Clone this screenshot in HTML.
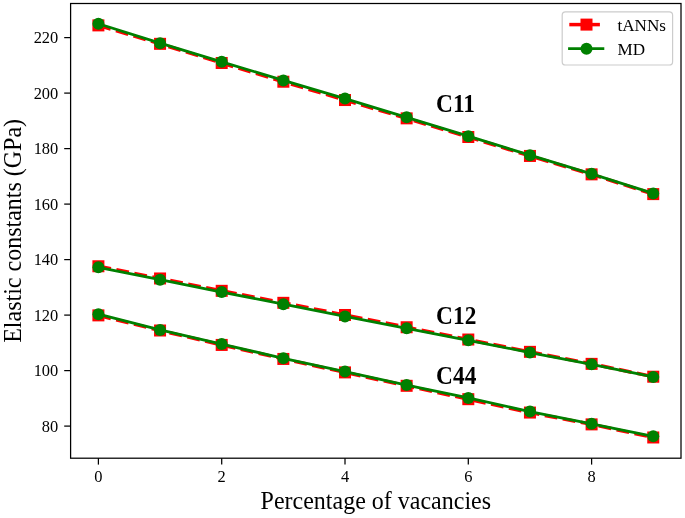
<!DOCTYPE html>
<html lang="en"><head><meta charset="utf-8"><title>Elastic constants vs percentage of vacancies</title>
<style>html,body{margin:0;padding:0;background:#fff;}svg{display:block;}</style></head>
<body>
<svg width="685" height="518" viewBox="0 0 685 518" font-family="'Liberation Serif', serif">
<rect x="0" y="0" width="685" height="518" fill="#ffffff"/>
<defs><clipPath id="ax"><rect x="70.6" y="3.5" width="610.4" height="454.7"/></clipPath></defs>
<g clip-path="url(#ax)">
<polyline points="98.40,25.39 160.05,43.84 221.70,62.99 283.35,81.72 345.00,100.04 406.65,118.35 468.30,137.00 529.95,155.95 591.60,174.35 653.25,194.11" fill="none" stroke="#ff0000" stroke-width="3.5" stroke-dasharray="12.8 5.5" stroke-linejoin="round"/>
<rect x="92.40" y="19.39" width="12.0" height="12.0" fill="#ff0000"/>
<rect x="154.05" y="37.84" width="12.0" height="12.0" fill="#ff0000"/>
<rect x="215.70" y="56.99" width="12.0" height="12.0" fill="#ff0000"/>
<rect x="277.35" y="75.72" width="12.0" height="12.0" fill="#ff0000"/>
<rect x="339.00" y="94.04" width="12.0" height="12.0" fill="#ff0000"/>
<rect x="400.65" y="112.35" width="12.0" height="12.0" fill="#ff0000"/>
<rect x="462.30" y="131.00" width="12.0" height="12.0" fill="#ff0000"/>
<rect x="523.95" y="149.95" width="12.0" height="12.0" fill="#ff0000"/>
<rect x="585.60" y="168.35" width="12.0" height="12.0" fill="#ff0000"/>
<rect x="647.25" y="188.11" width="12.0" height="12.0" fill="#ff0000"/>
<polyline points="98.40,23.73 160.05,43.15 221.70,61.80 283.35,80.39 345.00,98.59 406.65,117.30 468.30,136.20 529.95,155.20 591.60,173.85 653.25,193.42" fill="none" stroke="#008000" stroke-width="2.8" stroke-linejoin="round"/>
<circle cx="98.40" cy="23.73" r="6.0" fill="#008000"/>
<circle cx="160.05" cy="43.15" r="6.0" fill="#008000"/>
<circle cx="221.70" cy="61.80" r="6.0" fill="#008000"/>
<circle cx="283.35" cy="80.39" r="6.0" fill="#008000"/>
<circle cx="345.00" cy="98.59" r="6.0" fill="#008000"/>
<circle cx="406.65" cy="117.30" r="6.0" fill="#008000"/>
<circle cx="468.30" cy="136.20" r="6.0" fill="#008000"/>
<circle cx="529.95" cy="155.20" r="6.0" fill="#008000"/>
<circle cx="591.60" cy="173.85" r="6.0" fill="#008000"/>
<circle cx="653.25" cy="193.42" r="6.0" fill="#008000"/>
<polyline points="98.40,266.26 160.05,278.47 221.70,290.82 283.35,302.83 345.00,314.99 406.65,327.25 468.30,339.52 529.95,351.84 591.60,363.86 653.25,376.71" fill="none" stroke="#ff0000" stroke-width="3.5" stroke-dasharray="12.8 5.5" stroke-linejoin="round"/>
<rect x="92.40" y="260.26" width="12.0" height="12.0" fill="#ff0000"/>
<rect x="154.05" y="272.47" width="12.0" height="12.0" fill="#ff0000"/>
<rect x="215.70" y="284.82" width="12.0" height="12.0" fill="#ff0000"/>
<rect x="277.35" y="296.83" width="12.0" height="12.0" fill="#ff0000"/>
<rect x="339.00" y="308.99" width="12.0" height="12.0" fill="#ff0000"/>
<rect x="400.65" y="321.25" width="12.0" height="12.0" fill="#ff0000"/>
<rect x="462.30" y="333.52" width="12.0" height="12.0" fill="#ff0000"/>
<rect x="523.95" y="345.84" width="12.0" height="12.0" fill="#ff0000"/>
<rect x="585.60" y="357.86" width="12.0" height="12.0" fill="#ff0000"/>
<rect x="647.25" y="370.71" width="12.0" height="12.0" fill="#ff0000"/>
<polyline points="98.40,267.31 160.05,279.64 221.70,292.07 283.35,304.14 345.00,316.49 406.65,328.28 468.30,340.35 529.95,352.51 591.60,364.30 653.25,376.90" fill="none" stroke="#008000" stroke-width="2.8" stroke-linejoin="round"/>
<circle cx="98.40" cy="267.31" r="6.0" fill="#008000"/>
<circle cx="160.05" cy="279.64" r="6.0" fill="#008000"/>
<circle cx="221.70" cy="292.07" r="6.0" fill="#008000"/>
<circle cx="283.35" cy="304.14" r="6.0" fill="#008000"/>
<circle cx="345.00" cy="316.49" r="6.0" fill="#008000"/>
<circle cx="406.65" cy="328.28" r="6.0" fill="#008000"/>
<circle cx="468.30" cy="340.35" r="6.0" fill="#008000"/>
<circle cx="529.95" cy="352.51" r="6.0" fill="#008000"/>
<circle cx="591.60" cy="364.30" r="6.0" fill="#008000"/>
<circle cx="653.25" cy="376.90" r="6.0" fill="#008000"/>
<polyline points="98.40,315.38 160.05,330.50 221.70,344.93 283.35,358.94 345.00,372.40 406.65,385.81 468.30,399.18 529.95,412.56 591.60,424.38 653.25,437.48" fill="none" stroke="#ff0000" stroke-width="3.5" stroke-dasharray="12.8 5.5" stroke-linejoin="round"/>
<rect x="92.40" y="309.38" width="12.0" height="12.0" fill="#ff0000"/>
<rect x="154.05" y="324.50" width="12.0" height="12.0" fill="#ff0000"/>
<rect x="215.70" y="338.93" width="12.0" height="12.0" fill="#ff0000"/>
<rect x="277.35" y="352.94" width="12.0" height="12.0" fill="#ff0000"/>
<rect x="339.00" y="366.40" width="12.0" height="12.0" fill="#ff0000"/>
<rect x="400.65" y="379.81" width="12.0" height="12.0" fill="#ff0000"/>
<rect x="462.30" y="393.18" width="12.0" height="12.0" fill="#ff0000"/>
<rect x="523.95" y="406.56" width="12.0" height="12.0" fill="#ff0000"/>
<rect x="585.60" y="418.38" width="12.0" height="12.0" fill="#ff0000"/>
<rect x="647.25" y="431.48" width="12.0" height="12.0" fill="#ff0000"/>
<polyline points="98.40,314.21 160.05,329.89 221.70,344.10 283.35,358.31 345.00,371.60 406.65,385.11 468.30,397.91 529.95,411.59 591.60,423.82 653.25,436.37" fill="none" stroke="#008000" stroke-width="2.8" stroke-linejoin="round"/>
<circle cx="98.40" cy="314.21" r="6.0" fill="#008000"/>
<circle cx="160.05" cy="329.89" r="6.0" fill="#008000"/>
<circle cx="221.70" cy="344.10" r="6.0" fill="#008000"/>
<circle cx="283.35" cy="358.31" r="6.0" fill="#008000"/>
<circle cx="345.00" cy="371.60" r="6.0" fill="#008000"/>
<circle cx="406.65" cy="385.11" r="6.0" fill="#008000"/>
<circle cx="468.30" cy="397.91" r="6.0" fill="#008000"/>
<circle cx="529.95" cy="411.59" r="6.0" fill="#008000"/>
<circle cx="591.60" cy="423.82" r="6.0" fill="#008000"/>
<circle cx="653.25" cy="436.37" r="6.0" fill="#008000"/>
</g>
<line x1="98.40" y1="458.2" x2="98.40" y2="464.59999999999997" stroke="#000" stroke-width="1.25"/>
<text transform="translate(98.40 481.8) scale(0.935 1)" font-size="17.6" text-anchor="middle" fill="#000">0</text>
<line x1="221.70" y1="458.2" x2="221.70" y2="464.59999999999997" stroke="#000" stroke-width="1.25"/>
<text transform="translate(221.70 481.8) scale(0.935 1)" font-size="17.6" text-anchor="middle" fill="#000">2</text>
<line x1="345.00" y1="458.2" x2="345.00" y2="464.59999999999997" stroke="#000" stroke-width="1.25"/>
<text transform="translate(345.00 481.8) scale(0.935 1)" font-size="17.6" text-anchor="middle" fill="#000">4</text>
<line x1="468.30" y1="458.2" x2="468.30" y2="464.59999999999997" stroke="#000" stroke-width="1.25"/>
<text transform="translate(468.30 481.8) scale(0.935 1)" font-size="17.6" text-anchor="middle" fill="#000">6</text>
<line x1="591.60" y1="458.2" x2="591.60" y2="464.59999999999997" stroke="#000" stroke-width="1.25"/>
<text transform="translate(591.60 481.8) scale(0.935 1)" font-size="17.6" text-anchor="middle" fill="#000">8</text>
<line x1="64.19999999999999" y1="426.10" x2="70.6" y2="426.10" stroke="#000" stroke-width="1.25"/>
<text transform="translate(58.3 431.80) scale(0.935 1)" font-size="17.6" text-anchor="end" fill="#000">80</text>
<line x1="64.19999999999999" y1="370.60" x2="70.6" y2="370.60" stroke="#000" stroke-width="1.25"/>
<text transform="translate(58.3 376.30) scale(0.935 1)" font-size="17.6" text-anchor="end" fill="#000">100</text>
<line x1="64.19999999999999" y1="315.10" x2="70.6" y2="315.10" stroke="#000" stroke-width="1.25"/>
<text transform="translate(58.3 320.80) scale(0.935 1)" font-size="17.6" text-anchor="end" fill="#000">120</text>
<line x1="64.19999999999999" y1="259.60" x2="70.6" y2="259.60" stroke="#000" stroke-width="1.25"/>
<text transform="translate(58.3 265.30) scale(0.935 1)" font-size="17.6" text-anchor="end" fill="#000">140</text>
<line x1="64.19999999999999" y1="204.10" x2="70.6" y2="204.10" stroke="#000" stroke-width="1.25"/>
<text transform="translate(58.3 209.80) scale(0.935 1)" font-size="17.6" text-anchor="end" fill="#000">160</text>
<line x1="64.19999999999999" y1="148.60" x2="70.6" y2="148.60" stroke="#000" stroke-width="1.25"/>
<text transform="translate(58.3 154.30) scale(0.935 1)" font-size="17.6" text-anchor="end" fill="#000">180</text>
<line x1="64.19999999999999" y1="93.10" x2="70.6" y2="93.10" stroke="#000" stroke-width="1.25"/>
<text transform="translate(58.3 98.80) scale(0.935 1)" font-size="17.6" text-anchor="end" fill="#000">200</text>
<line x1="64.19999999999999" y1="37.60" x2="70.6" y2="37.60" stroke="#000" stroke-width="1.25"/>
<text transform="translate(58.3 43.30) scale(0.935 1)" font-size="17.6" text-anchor="end" fill="#000">220</text>
<rect x="70.6" y="3.5" width="610.4" height="454.7" fill="none" stroke="#000" stroke-width="1.25"/>
<text transform="translate(375.80 508.9) scale(0.972 1)" font-size="24.7" text-anchor="middle" fill="#000">Percentage of vacancies</text>
<text transform="translate(20.9 230.85) rotate(-90) scale(0.96 1)" font-size="25" text-anchor="middle" fill="#000">Elastic constants (GPa)</text>
<text transform="translate(436.1 112.45) scale(0.966 1)" font-size="24.2" font-weight="bold" fill="#000">C11</text>
<text transform="translate(436.1 324.35) scale(0.966 1)" font-size="24.2" font-weight="bold" fill="#000">C12</text>
<text transform="translate(436.1 384.1) scale(0.966 1)" font-size="24.2" font-weight="bold" fill="#000">C44</text>
<rect x="562.2" y="11.8" width="110.4" height="53.2" rx="3.3" ry="3.3" fill="#ffffff" fill-opacity="0.8" stroke="#cccccc" stroke-width="1.2"/>
<line x1="569.3" y1="24.6" x2="599.9" y2="24.6" stroke="#ff0000" stroke-width="3.5"/>
<rect x="580.50" y="18.60" width="12.0" height="12.0" fill="#ff0000"/>
<line x1="568.1" y1="48.7" x2="604.3" y2="48.7" stroke="#008000" stroke-width="2.8"/>
<circle cx="586.5" cy="48.7" r="6.0" fill="#008000"/>
<text transform="translate(617.5 30.85) scale(0.985 1)" font-size="17.4" fill="#000">tANNs</text>
<text transform="translate(617.5 55.0) scale(0.985 1)" font-size="17.4" fill="#000">MD</text>
</svg>
</body></html>
